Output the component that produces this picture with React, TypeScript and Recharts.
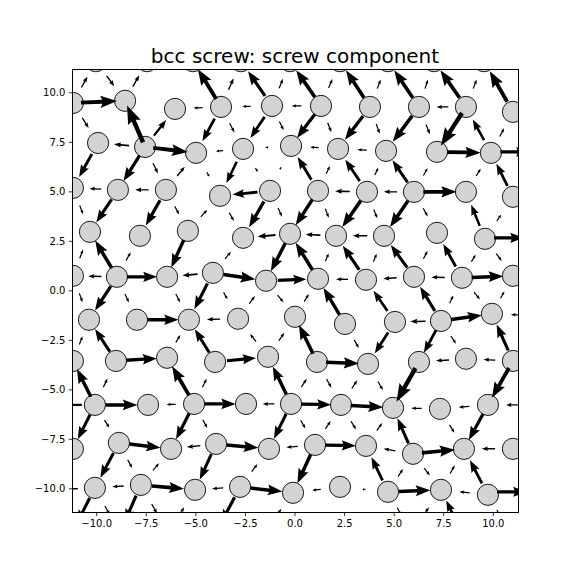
import React from 'react';
import { ScatterChart, Scatter, XAxis, YAxis, ReferenceLine } from 'recharts';

// atom columns, row by row from top to bottom, [x, y]
const rowA = [[-10.04, 11.6], [-7.46, 11.6], [-5.14, 11.6], [-2.72, 11.6], [-0.25, 11.6], [2.27, 11.6], [4.69, 11.6], [7.01, 11.6], [9.53, 11.6]];
const rowB = [[-11.2, 9.49], [-8.57, 9.6], [-6.05, 9.19], [-3.73, 9.29], [-1.16, 9.34], [1.31, 9.34], [3.78, 9.29], [6.25, 9.29], [8.62, 9.29], [10.99, 9.04]];
const rowC = [[-9.93, 7.47], [-7.56, 7.27], [-4.99, 6.97], [-2.62, 7.17], [-0.2, 7.32], [2.17, 7.17], [4.59, 7.07], [7.16, 7.02], [9.88, 6.97]];
const rowD = [[-11.2, 5.2], [-8.93, 5.1], [-6.51, 5.1], [-3.78, 4.8], [-1.26, 5.05], [1.16, 5.05], [3.63, 5.0], [6.0, 5.0], [8.62, 5.0], [10.99, 4.75]];
const rowE = [[-10.34, 2.98], [-7.82, 2.78], [-5.4, 3.03], [-2.62, 2.68], [-0.25, 2.88], [2.07, 2.78], [4.49, 2.78], [7.16, 2.93], [9.58, 2.63]];
const rowF = [[-11.2, 0.76], [-8.98, 0.71], [-6.45, 0.71], [-4.14, 0.91], [-1.46, 0.51], [1.16, 0.61], [3.58, 0.56], [6.0, 0.71], [8.42, 0.66], [10.99, 0.76]];
const rowG = [[-10.39, -1.46], [-7.97, -1.46], [-5.35, -1.46], [-2.87, -1.41], [0, -1.31], [2.52, -1.67], [5.04, -1.57], [7.36, -1.52], [9.93, -1.16]];
const rowH = [[-11.2, -3.54], [-9.03, -3.54], [-6.45, -3.38], [-4.03, -3.59], [-1.36, -3.33], [1.11, -3.59], [3.68, -3.69], [6.25, -3.59], [8.62, -3.43], [10.99, -3.54]];
const rowI = [[-10.09, -5.76], [-7.41, -5.76], [-5.09, -5.71], [-2.47, -5.71], [-0.2, -5.71], [2.32, -5.76], [4.94, -5.91], [7.31, -5.96], [9.73, -5.76]];
const rowJ = [[-11.2, -7.98], [-8.88, -7.68], [-6.25, -7.98], [-3.98, -7.73], [-1.31, -7.98], [1.01, -7.78], [3.58, -7.83], [5.95, -8.23], [8.52, -7.98], [10.99, -7.98]];
const rowK = [[-10.09, -9.95], [-7.77, -9.8], [-5.04, -10.05], [-2.77, -9.9], [-0.1, -10.2], [2.27, -9.9], [4.69, -10.15], [7.36, -10.05], [9.73, -10.3]];

const atomRows = [rowA, rowB, rowC, rowD, rowE, rowF, rowG, rowH, rowI, rowJ, rowK];

// screw component along in-row bonds, fraction of the bond (+ = points right)
const horizB = [0.69, 0, -0.2, -0.16, -0.2, 0, 0, -0.25, 0];
const horizC = [-0.32, 0.68, -0.15, 0.06, -0.18, -0.2, 0, 0.62];
const horizD = [-0.26, -0.28, 0, -0.5, 0, -0.3, -0.28, 0.64, 0];
const horizE = [0, 0, 0, -0.38, -0.32, -0.3, 0, 0];
const horizF = [-0.3, 0.6, -0.33, 0.6, 0.55, -0.25, -0.28, -0.28, 0.62];
const horizG = [0, 0.6, -0.27, 0, 0, 0, -0.33, 0.6];
const horizH = [0, 0.6, 0, 0.55, 0, 0.65, 0, -0.28, -0.25];
const horizI = [0.6, -0.2, 0.6, -0.26, 0.6, 0.63, -0.22, -0.22];
const horizJ = [0, 0.6, -0.3, 0.6, -0.25, 0.6, -0.25, 0.65, -0.27];
const horizK = [-0.25, 0.59, -0.25, 0.6, -0.18, -0.06, 0.6, -0.22];

const horizontal = [null, horizB, horizC, horizD, horizE, horizF, horizG, horizH, horizI, horizJ, horizK];

// bonds between neighbouring rows, left to right (+ = points to the lower row)
const diagAB = [-0.26, 0.26, -0.29, 0, 0, -0.65, -0.25, -0.55, -0.21, -0.6, -0.2, -0.6, -0.2, -0.6, -0.2, -0.6, -0.2, -0.6];
const diagBC = [0.25, 0, -0.8, -0.41, 0, 0.49, 0.22, 0.49, 0.22, 0.6, 0.22, 0.57, 0.22, 0.59, 0.22, 0.73, -0.45, -0.2];
const diagCD = [0.51, 0, 0.59, 0.24, -0.25, 0.1, 0.45, 0.08, 0.05, -0.51, -0.18, -0.5, -0.18, -0.54, -0.18, 0, -0.18, -0.5];
const diagDE = [0.2, 0.55, 0, 0.55, 0.2, -0.2, 0.2, 0.55, 0.2, 0.6, 0.2, 0.6, 0.2, 0.6, 0.2, 0, -0.45, -0.15];
const diagEF = [-0.2, -0.61, -0.2, 0, 0.6, 0, -0.2, 0, 0.6, -0.6, -0.18, -0.55, -0.18, -0.55, -0.18, -0.5, -0.18, 0.2];
const diagFG = [0.2, 0.57, 0.2, 0, 0.2, 0.55, 0.15, -0.2, 0.2, -0.2, -0.59, 0, -0.48, 0, -0.55, -0.18, 0.2, -0.18];
const diagGH = [-0.2, -0.55, 0, 0, -0.2, -0.55, 0, -0.2, -0.2, -0.64, 0, 0.2, 0.5, 0, 0.55, 0.2, 0, -0.55];
const diagHI = [-0.63, -0.2, 0, 0, -0.63, -0.2, 0, 0, -0.59, -0.2, 0.2, -0.2, 0.2, 0.73, 0, 0, 0, 0.68];
const diagIJ = [0.56, 0.2, 0, 0, 0.57, 0.2, 0, 0, 0.55, 0.2, -0.2, 0.2, -0.2, -0.55, 0, 0.2, 0.6, 0];
const diagJK = [0, 0.55, 0.2, -0.2, 0, 0.55, 0, -0.2, 0, 0.6, 0, 0, -0.5, -0.2, 0.2, -0.2, -0.5, 0];

const diagonals = [diagAB, diagBC, diagCD, diagDE, diagEF, diagFG, diagGH, diagHI, diagIJ, diagJK];

// arrows on bonds leading out of the box: [x, y, u, v]
const edgeArrows = [
  [11.09, 7.02, 1.46, 0],
  [10.79, 2.68, 1.51, 0],
  [11.14, -1.21, -0.5, 0],
  [10.94, -5.76, -0.6, 0],
  [10.94, -10.15, 1.5, 0],
  [-11.3, -5.76, -1.1, 0],
  [-11.3, -10.0, -0.7, 0],
  [-10.67, -11.09, -0.64, -1.25],
  [-9.46, -11.09, 0.25, -0.45],
  [-8.3, -11.01, -0.58, -1.33],
  [-7.09, -11.01, 0.27, -0.48],
  [-5.72, -11.14, 0.27, 0.43],
  [-3.38, -11.06, -0.67, -1.28],
  [-0.83, -11.21, 0.29, 0.4],
  [5.27, -11.16, 0.23, -0.41],
  [6.61, -11.14, 0.3, 0.43],
  [7.89, -11.14, -0.53, 1.09],
  [10.29, -11.26, 0.22, -0.38],
];

const ticks = [-10, -7.5, -5, -2.5, 0, 2.5, 5, 7.5, 10];
const xDomain = [-11.23, 11.26];
const yDomain = [-11.2, 11.2];

const atoms = atomRows.flat().map(([x, y]) => ({ x, y }));

type Seg = { tx: number; ty: number; hx: number; hy: number };
const arrows: Seg[] = [];

const addBond = (a: number[], b: number[], s: number) => {
  if (!s) return;
  const mx = (a[0] + b[0]) / 2;
  const my = (a[1] + b[1]) / 2;
  const u = s * (b[0] - a[0]);
  const v = s * (b[1] - a[1]);
  arrows.push({ tx: mx - u / 2, ty: my - v / 2, hx: mx + u / 2, hy: my + v / 2 });
};

horizontal.forEach((vals, r) => {
  if (!vals) return;
  const row = atomRows[r];
  vals.forEach((s, i) => addBond(row[i], row[i + 1], s));
});

diagonals.forEach((vals, r) => {
  const upper = atomRows[r];
  const lower = atomRows[r + 1];
  const upperLong = upper.length > lower.length;
  const long = upperLong ? upper : lower;
  const short = upperLong ? lower : upper;
  vals.forEach((s, j) => {
    const k = j >> 1;
    const la = j % 2 === 0 ? long[k] : long[k + 1];
    const sa = short[k];
    if (upperLong) addBond(la, sa, s);
    else addBond(sa, la, s);
  });
});

edgeArrows.forEach(([x, y, u, v]) => {
  arrows.push({ tx: x - u / 2, ty: y - v / 2, hx: x + u / 2, hy: y + v / 2 });
});

const fmt = (v: number) => (v < 0 ? '\u2212' : '') + Math.abs(v).toFixed(1);

// arrow drawn around the segment middle, shape scales with its length
const ArrowShape = (props: any) => {
  const { x1, y1, x2, y2, clipPath } = props;
  const dx = x2 - x1;
  const dy = y2 - y1;
  const len = Math.hypot(dx, dy);
  if (!(len > 0.3)) return <g />;
  const ux = dx / len;
  const uy = dy / len;
  const nx = -uy;
  const ny = ux;
  const mx = (x1 + x2) / 2;
  const my = (y1 + y2) / 2;
  const hw = Math.max(0.055 * len, 0.6);
  const hh = Math.max(0.17 * len, 1.6);
  const hl = 0.46 * len;
  const ha = 0.41 * len;
  const h = len / 2;
  const pts = [
    [-h, hw], [h - ha, hw], [h - hl, hh], [h, 0], [h - hl, -hh], [h - ha, -hw], [-h, -hw],
  ];
  const d = pts
    .map(([a, b], i) => `${i ? 'L' : 'M'}${(mx + a * ux + b * nx).toFixed(2)},${(my + a * uy + b * ny).toFixed(2)}`)
    .join('') + 'Z';
  return <path d={d} fill="#000" stroke="none" clipPath={clipPath} />;
};

const Atom = (props: any) => {
  const { cx, cy } = props;
  return <circle cx={cx} cy={cy} r={10.6} fill="#d3d3d3" stroke="#1a1a1a" strokeWidth={1} />;
};

export default function App() {
  return (
    <div style={{ position: 'absolute', left: 0, top: 0, width: 576, height: 576, background: '#fff' }}>
      <div
        style={{
          position: 'absolute',
          left: 0,
          top: 45.5,
          width: 590,
          textAlign: 'center',
          fontFamily: 'DejaVu Sans',
          fontSize: 20,
          lineHeight: '20px',
          color: '#000',
        }}
      >
        bcc screw: screw component
      </div>
      <ScatterChart width={576} height={576} margin={{ top: 69.1, right: 57.7, bottom: 33.4, left: 32.3 }}>
        <XAxis
          type="number"
          dataKey="x"
          domain={xDomain}
          allowDataOverflow
          ticks={ticks}
          tickFormatter={fmt}
          height={30}
          axisLine={false}
          tickSize={3.5}
          tickMargin={3.5}
          tickLine={{ stroke: '#000', strokeWidth: 0.8 }}
          tick={{ fill: '#000', fontSize: 10, fontFamily: 'DejaVu Sans' }}
        />
        <YAxis
          type="number"
          dataKey="y"
          domain={yDomain}
          allowDataOverflow
          ticks={ticks}
          tickFormatter={fmt}
          width={40}
          axisLine={false}
          tickSize={3.5}
          tickMargin={3.5}
          tickLine={{ stroke: '#000', strokeWidth: 0.8 }}
          tick={{ fill: '#000', fontSize: 10, fontFamily: 'DejaVu Sans' }}
        />
        <Scatter data={atoms} shape={Atom} isAnimationActive={false} />
        {arrows.map((a, i) => (
          <ReferenceLine
            key={i}
            segment={[{ x: a.tx, y: a.ty }, { x: a.hx, y: a.hy }]}
            ifOverflow="hidden"
            shape={ArrowShape}
            zIndex={700}
          />
        ))}
      </ScatterChart>
      <div
        style={{
          position: 'absolute',
          left: 72,
          top: 69,
          width: 446.5,
          height: 444,
          border: '1px solid #000',
          boxSizing: 'border-box',
          pointerEvents: 'none',
        }}
      />
    </div>
  );
}
